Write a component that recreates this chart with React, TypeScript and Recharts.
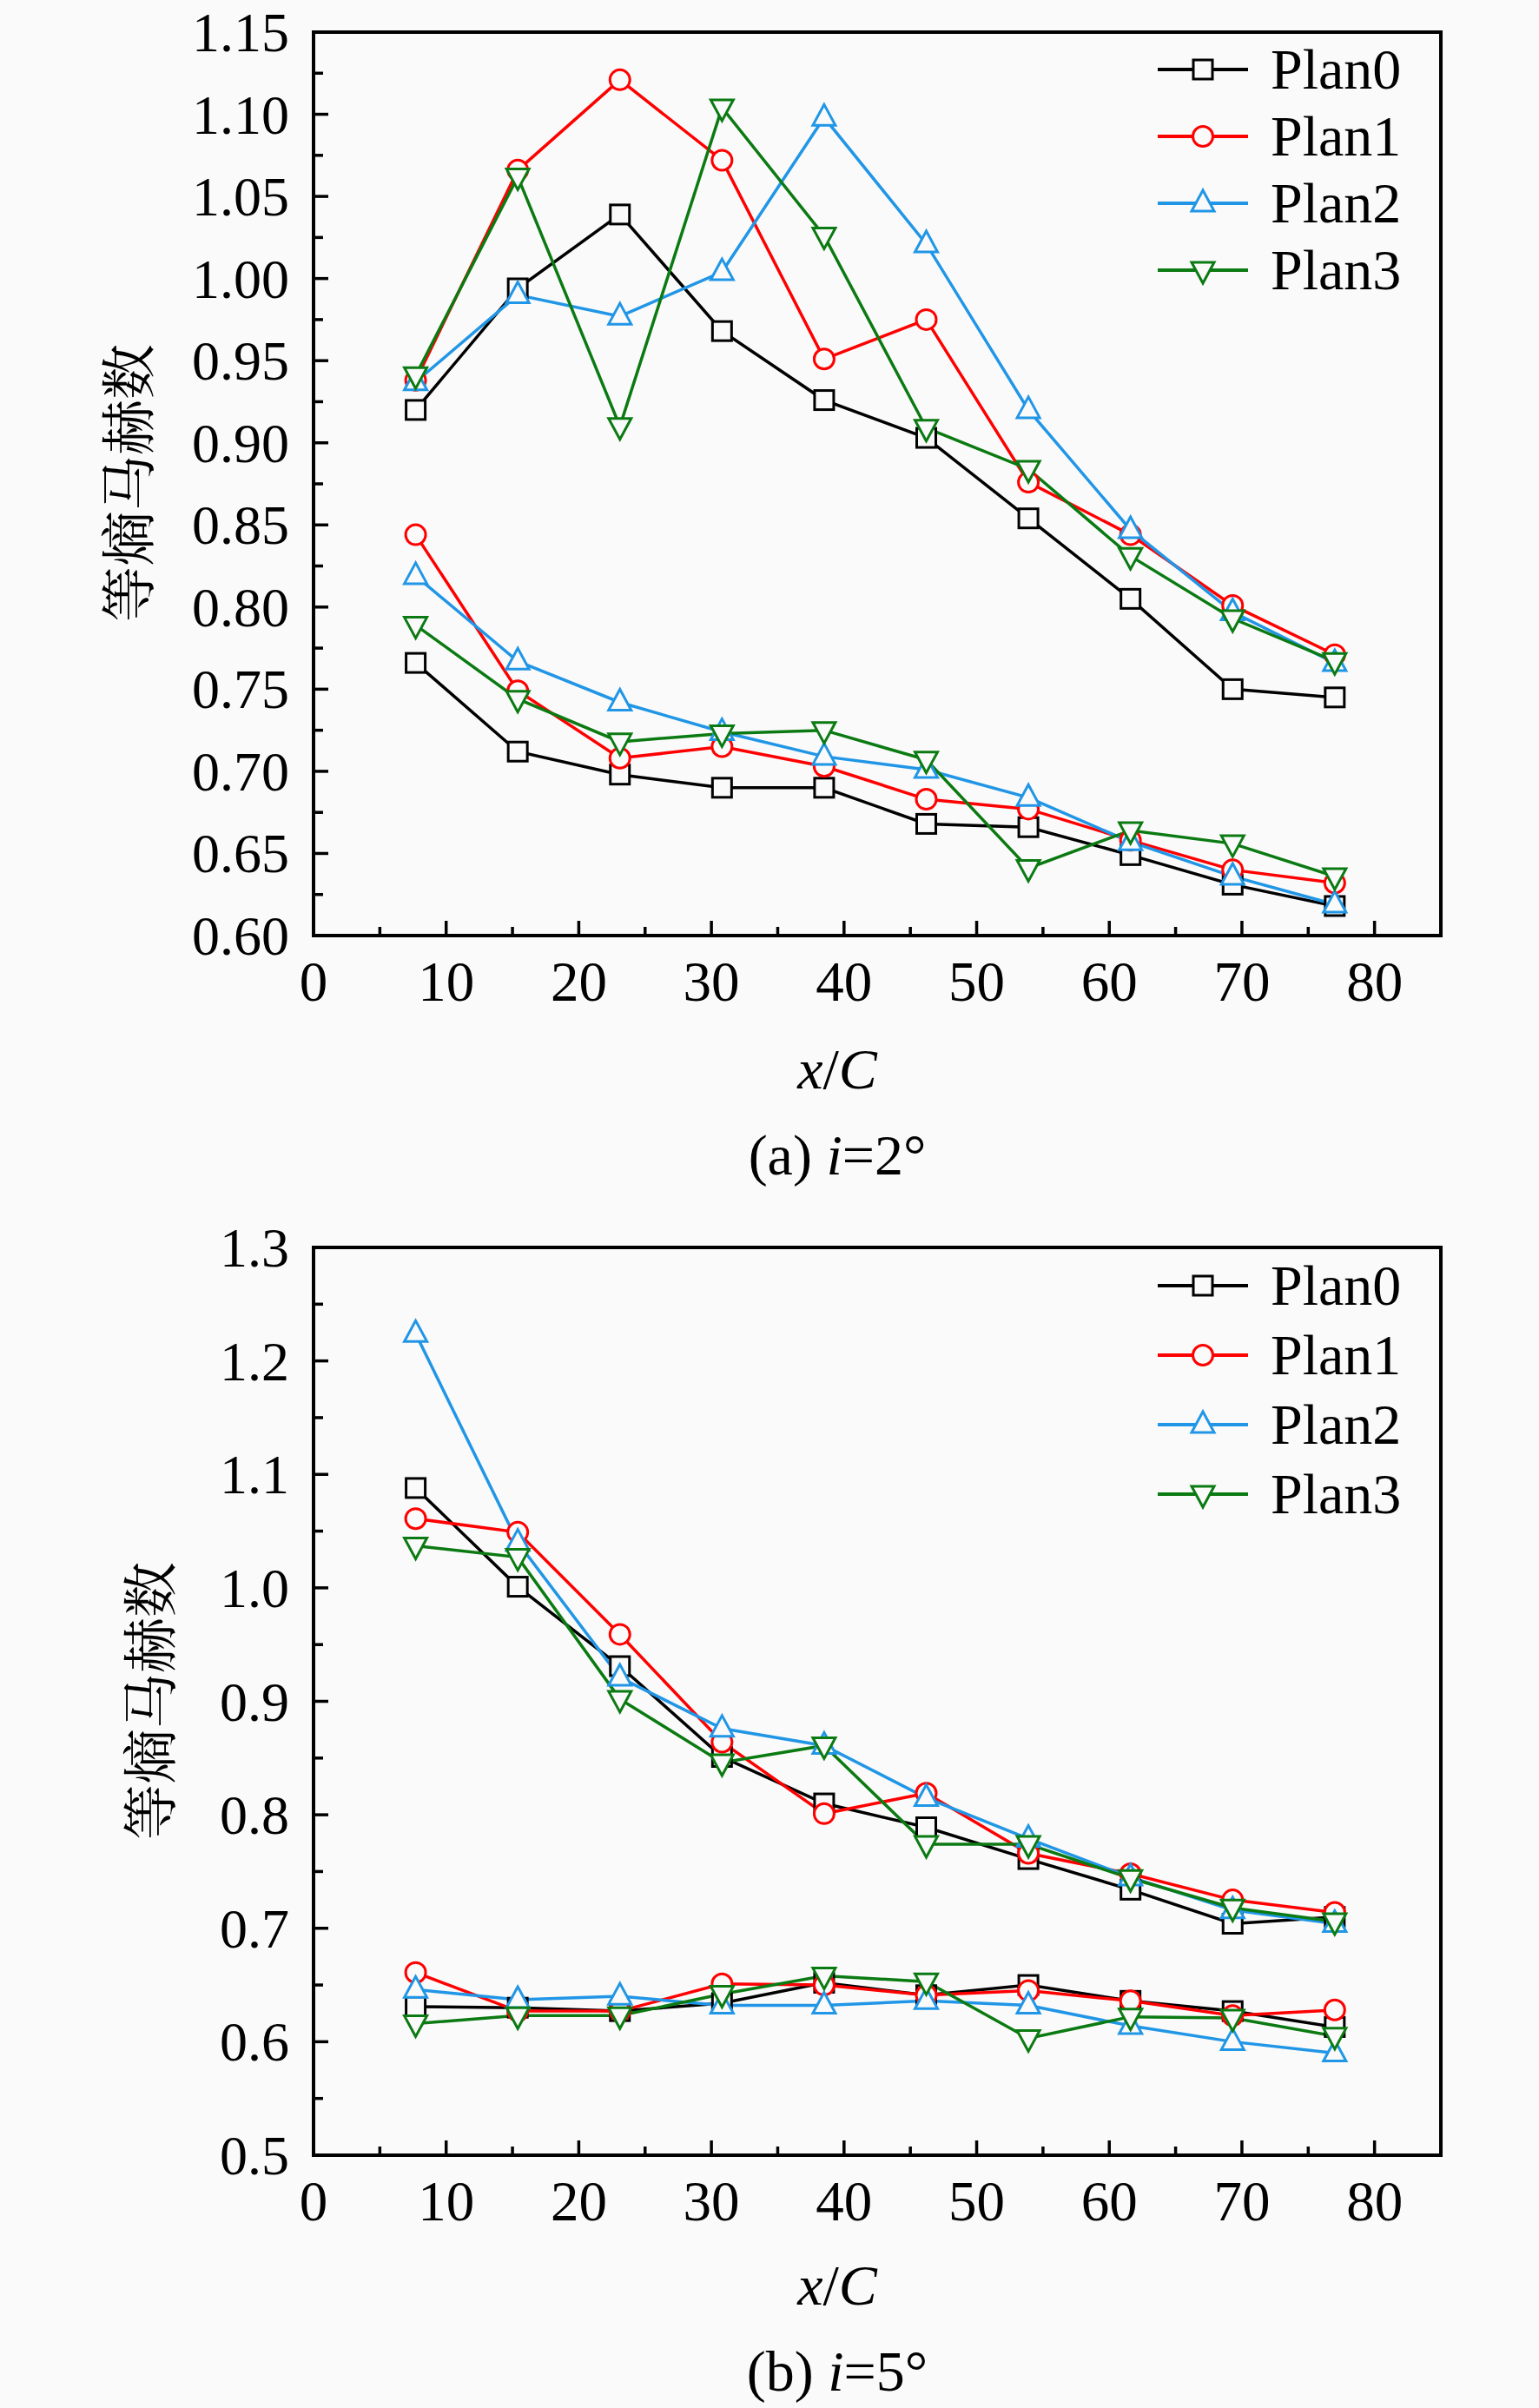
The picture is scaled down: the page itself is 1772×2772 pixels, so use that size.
import React from "react";
import {
  LineChart,
  Line,
  XAxis,
  YAxis,
  ReferenceArea,
  Legend,
} from "recharts";

// x/C stations
const xs = [7.7, 15.4, 23.1, 30.8, 38.5, 46.2, 53.9, 61.6, 69.3, 77.0];

// (a) i=2°, upper branch
const a0Up = [0.92, 0.994, 1.039, 0.968, 0.926, 0.903, 0.854, 0.805, 0.75, 0.745];
const a1Up = [0.938, 1.066, 1.121, 1.072, 0.951, 0.975, 0.876, 0.844, 0.801, 0.771];
const a2Up = [0.937, 0.99, 0.977, 1.004, 1.098, 1.021, 0.92, 0.847, 0.797, 0.766];
const a3Up = [0.941, 1.062, 0.91, 1.104, 1.026, 0.909, 0.884, 0.831, 0.793, 0.767];
// (a) i=2°, lower branch
const a0Low = [0.766, 0.712, 0.698, 0.69, 0.69, 0.668, 0.666, 0.649, 0.631, 0.618];
const a1Low = [0.844, 0.749, 0.708, 0.715, 0.703, 0.683, 0.677, 0.658, 0.64, 0.632];
const a2Low = [0.819, 0.767, 0.742, 0.724, 0.709, 0.701, 0.684, 0.657, 0.636, 0.619];
const a3Low = [0.789, 0.744, 0.718, 0.723, 0.725, 0.707, 0.641, 0.664, 0.656, 0.636];

// (b) i=5°, upper branch
const b0Up = [1.088, 1.001, 0.931, 0.851, 0.81, 0.789, 0.761, 0.734, 0.704, 0.71];
const b1Up = [1.061, 1.049, 0.959, 0.864, 0.801, 0.819, 0.766, 0.748, 0.725, 0.714];
const b2Up = [1.224, 1.04, 0.921, 0.876, 0.861, 0.815, 0.779, 0.745, 0.716, 0.704];
const b3Up = [1.037, 1.027, 0.902, 0.846, 0.861, 0.774, 0.774, 0.744, 0.718, 0.706];
// (b) i=5°, lower branch
const b0Low = [0.631, 0.63, 0.627, 0.634, 0.652, 0.641, 0.65, 0.636, 0.627, 0.613];
const b1Low = [0.661, 0.627, 0.627, 0.651, 0.65, 0.641, 0.645, 0.636, 0.623, 0.628];
const b2Low = [0.646, 0.637, 0.64, 0.632, 0.632, 0.636, 0.632, 0.614, 0.6, 0.59];
const b3Low = [0.616, 0.623, 0.623, 0.642, 0.658, 0.653, 0.603, 0.622, 0.621, 0.605];

// axis ticks
const xTicks = [0, 5, 10, 15, 20, 25, 30, 35, 40, 45, 50, 55, 60, 65, 70, 75, 80];
const yTicksA = [
  0.6, 0.625, 0.65, 0.675, 0.7, 0.725, 0.75, 0.775, 0.8, 0.825, 0.85, 0.875,
  0.9, 0.925, 0.95, 0.975, 1.0, 1.025, 1.05, 1.075, 1.1, 1.125, 1.15,
];
const yTicksB = [
  0.5, 0.55, 0.6, 0.65, 0.7, 0.75, 0.8, 0.85, 0.9, 0.95, 1.0, 1.05, 1.1, 1.15,
  1.2, 1.25, 1.3,
];

const plans = [
  { name: "Plan0", color: "#000000", shape: "square" },
  { name: "Plan1", color: "#ff0000", shape: "circle" },
  { name: "Plan2", color: "#2196e6", shape: "up" },
  { name: "Plan3", color: "#0b7a12", shape: "down" },
];

const BG = "#fafafa";
const SERIF = "'Liberation Serif', 'Times New Roman', serif";
const CJK = "'Noto Serif CJK SC', 'Noto Sans CJK SC', sans-serif";

function Marker({ cx, cy, shape, color }) {
  if (cx == null || cy == null) return null;
  const common = { stroke: color, strokeWidth: 3, fill: BG };
  if (shape === "square")
    return <rect x={cx - 11} y={cy - 11} width={22} height={22} {...common} />;
  if (shape === "circle") return <circle cx={cx} cy={cy} r={11.5} {...common} />;
  if (shape === "up")
    return (
      <polygon
        points={`${cx},${cy - 15} ${cx - 13},${cy + 9} ${cx + 13},${cy + 9}`}
        {...common}
      />
    );
  return (
    <polygon
      points={`${cx},${cy + 15} ${cx - 13},${cy - 9} ${cx + 13},${cy - 9}`}
      {...common}
    />
  );
}

function XTick({ x, y, payload }) {
  const v = payload.value;
  const major = v % 10 === 0;
  return (
    <g>
      <line x1={x} x2={x} y1={y} y2={y - (major ? 17 : 10)} stroke="#000" strokeWidth={3.5} />
      {major && (
        <text x={x} y={y + 75} textAnchor="middle" fontFamily={SERIF} fontSize={65} fill="#000">
          {v}
        </text>
      )}
    </g>
  );
}

function makeYTick(digits) {
  return function YTick({ x, y, payload, index }) {
    const major = index % 2 === 0;
    return (
      <g>
        <line x1={x} x2={x + (major ? 17 : 11)} y1={y} y2={y} stroke="#000" strokeWidth={3.5} />
        {major && (
          <text x={x - 28} y={y + 22} textAnchor="end" fontFamily={SERIF} fontSize={64} fill="#000">
            {payload.value.toFixed(digits)}
          </text>
        )}
      </g>
    );
  };
}

function LegendBox({ gap }) {
  return (
    <svg width={340} height={330}>
      {plans.map((p, k) => {
        const cy = 40 + k * gap;
        return (
          <g key={p.name}>
            <line x1={13} x2={117} y1={cy} y2={cy} stroke={p.color} strokeWidth={4} />
            <Marker cx={65} cy={cy} shape={p.shape} color={p.color} />
            <text x={143} y={cy + 22} fontFamily={SERIF} fontSize={66} fill="#000">
              {p.name}
            </text>
          </g>
        );
      })}
    </svg>
  );
}

function Panel({ upper, lower, yTicks, digits, height, margin, legendGap }) {
  const rows = xs.map((x, i) => {
    const r = { x };
    plans.forEach((_, k) => {
      r[`u${k}`] = upper[k][i];
      r[`l${k}`] = lower[k][i];
    });
    return r;
  });
  const yMin = yTicks[0];
  const yMax = yTicks[yTicks.length - 1];
  const YTick = makeYTick(digits);
  return (
    <LineChart width={1772} height={height} data={rows} margin={margin}>
      <ReferenceArea
        x1={0}
        x2={85}
        y1={yMin}
        y2={yMax}
        fill="none"
        fillOpacity={0}
        stroke="#000"
        strokeWidth={4}
      />
      <XAxis
        dataKey="x"
        type="number"
        domain={[0, 85]}
        ticks={xTicks}
        interval={0}
        height={80}
        tickSize={0}
        tickMargin={0}
        tickLine={false}
        axisLine={{ stroke: "#000", strokeWidth: 4 }}
        tick={<XTick />}
        allowDataOverflow
      />
      <YAxis
        type="number"
        domain={[yMin, yMax]}
        ticks={yTicks}
        interval={0}
        width={361}
        tickSize={0}
        tickMargin={0}
        tickLine={false}
        axisLine={{ stroke: "#000", strokeWidth: 4 }}
        tick={<YTick />}
        allowDataOverflow
      />
      <Legend
        layout="vertical"
        align="center"
        verticalAlign="middle"
        wrapperStyle={{ left: 1320, top: 40, width: 340, height: 330 }}
        content={() => <LegendBox gap={legendGap} />}
      />
      {plans.flatMap((p, k) =>
        ["u", "l"].map((s) => (
          <Line
            key={`${s}${k}`}
            dataKey={`${s}${k}`}
            name={p.name}
            stroke={p.color}
            strokeWidth={3.5}
            isAnimationActive={false}
            dot={(props) => (
              <Marker
                key={`${s}${k}-${props.index}`}
                cx={props.cx}
                cy={props.cy}
                shape={p.shape}
                color={p.color}
              />
            )}
            activeDot={false}
          />
        ))
      )}
    </LineChart>
  );
}

function XLabel({ cx, y }) {
  return (
    <text x={cx} y={y} textAnchor="middle" fontFamily={SERIF} fontSize={66} fill="#000">
      <tspan fontStyle="italic">x</tspan>
      <tspan>/</tspan>
      <tspan fontStyle="italic">C</tspan>
    </text>
  );
}

function Caption({ cx, y, tag, angle }) {
  return (
    <text x={cx} y={y} textAnchor="middle" fontFamily={SERIF} fontSize={66} fill="#000">
      <tspan>{`(${tag}) `}</tspan>
      <tspan fontStyle="italic">i</tspan>
      <tspan>{`=${angle}°`}</tspan>
    </text>
  );
}

function YLabel({ cx, cy }) {
  return (
    <text
      x={cx}
      y={cy}
      transform={`rotate(-90 ${cx} ${cy})`}
      textAnchor="middle"
      dominantBaseline="central"
      fontFamily={CJK}
      fontSize={64}
      fill="#000"
    >
      等熵马赫数
    </text>
  );
}

export default function App() {
  return (
    <div
      style={{
        position: "absolute",
        left: 0,
        top: 0,
        width: 1772,
        height: 2772,
        background: BG,
        overflow: "hidden",
      }}
    >
      <div style={{ position: "absolute", left: 0, top: 0 }}>
        <Panel
          upper={[a0Up, a1Up, a2Up, a3Up]}
          lower={[a0Low, a1Low, a2Low, a3Low]}
          yTicks={yTicksA}
          digits={2}
          height={1200}
          margin={{ top: 37, right: 113, bottom: 43, left: 0 }}
          legendGap={77}
        />
      </div>
      <div style={{ position: "absolute", left: 0, top: 1400 }}>
        <Panel
          upper={[b0Up, b1Up, b2Up, b3Up]}
          lower={[b0Low, b1Low, b2Low, b3Low]}
          yTicks={yTicksB}
          digits={1}
          height={1210}
          margin={{ top: 36, right: 113, bottom: 49, left: 0 }}
          legendGap={80}
        />
      </div>
      <svg
        width={1772}
        height={2772}
        style={{ position: "absolute", left: 0, top: 0, pointerEvents: "none" }}
      >
        <YLabel cx={143} cy={556} />
        <XLabel cx={964} y={1253} />
        <Caption cx={964} y={1352} tag="a" angle={2} />
        <YLabel cx={168} cy={1958} />
        <XLabel cx={964} y={2653} />
        <Caption cx={964} y={2752} tag="b" angle={5} />
      </svg>
    </div>
  );
}
